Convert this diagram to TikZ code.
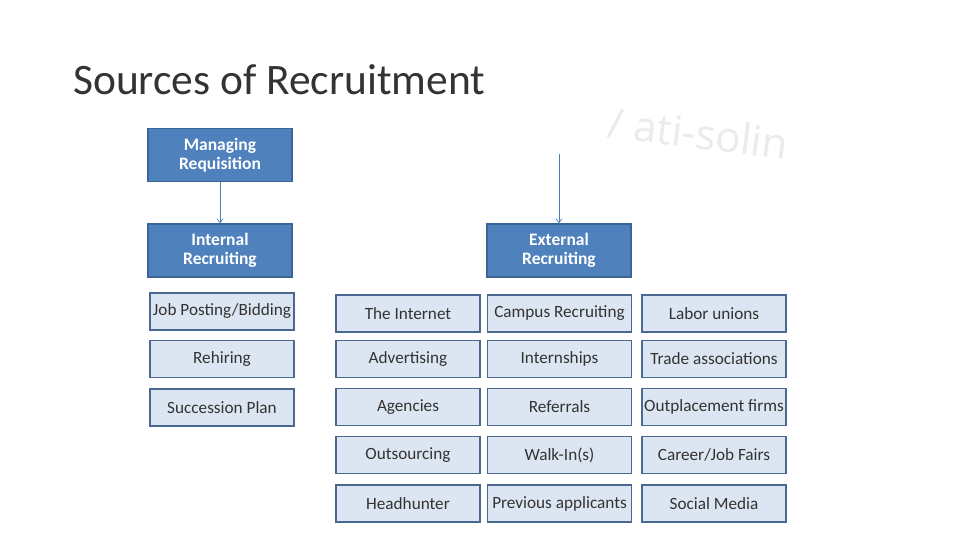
\documentclass[tikz,border=0pt]{standalone}
\usepackage{fontspec}
\setmainfont{Carlito}
\newfontfamily\wmfont{Open Sans}
\usetikzlibrary{arrows.meta}
\definecolor{hdfill}{HTML}{4F81BD}
\definecolor{hdline}{HTML}{3B6595}
\definecolor{itfill}{HTML}{DCE6F2}
\definecolor{itline}{HTML}{4A6890}
\definecolor{ittext}{HTML}{333333}
\definecolor{wmark}{HTML}{EBEBEB}
\definecolor{arrowc}{HTML}{4A7EBB}
\begin{document}
\begin{tikzpicture}[x=1pt,y=-1pt,
  hdbox/.style={draw=hdline,fill=hdfill,line width=1.4pt,minimum width=144pt,minimum height=53pt,inner sep=0pt,align=center,text=white,font=\bfseries\fontsize{17.5}{18.5}\selectfont},
  itbox/.style={draw=itline,fill=itfill,line width=1.6pt,minimum width=144pt,minimum height=37pt,inner sep=0pt,align=center,text=ittext,font=\fontsize{17.2}{19}\selectfont},
  conn/.style={draw=arrowc,line width=0.7pt,-{Straight Barb[length=4pt,width=6pt]}}]
\useasboundingbox (0,0) rectangle (960,540);
\fill[white] (0,0) rectangle (960,540);
% title
\node[anchor=base west,inner sep=0pt,font=\fontsize{43.5}{48}\selectfont,text=black!80] (title) at (73,95) {Sources of Recruitment};
% watermark fragment
\node[rotate=-7,inner sep=0pt,font=\wmfont\fontsize{42}{44}\selectfont,text=wmark] (wm) at (698,133) {/ ati-solin};
% header boxes
\node[hdbox] (mr) at (220,155) {Managing\\Requisition};
\node[hdbox] (ir) at (220,250.5) {Internal\\Recruiting};
\node[hdbox] (er) at (559,250.5) {External\\Recruiting};
\coordinate (etop) at (559,154);
\draw[conn] (mr) -- (ir);
\draw[conn] (etop) -- (er);
% internal list
\node[itbox] (i1) at (222,311.5) {Job Posting/Bidding};
\node[itbox] (i2) at (222,359) {Rehiring};
\node[itbox] (i3) at (222,407.5) {Succession Plan};
% external grid
\node[itbox] (a1) at (408,313.5) {The Internet};
\node[itbox] (a2) at (408,359) {Advertising};
\node[itbox] (a3) at (408,407) {Agencies};
\node[itbox] (a4) at (408,455) {Outsourcing};
\node[itbox] (a5) at (408,503.5) {Headhunter};
\node[itbox] (b1) at (559.5,313.5) {Campus Recruiting};
\node[itbox] (b2) at (559.5,359) {Internships};
\node[itbox] (b3) at (559.5,407) {Referrals};
\node[itbox] (b4) at (559.5,455) {Walk-In(s)};
\node[itbox] (b5) at (559.5,503.5) {Previous applicants};
\node[itbox] (c1) at (714,313.5) {Labor unions};
\node[itbox] (c2) at (714,359) {Trade associations};
\node[itbox] (c3) at (714,407) {Outplacement firms};
\node[itbox] (c4) at (714,455) {Career/Job Fairs};
\node[itbox] (c5) at (714,503.5) {Social Media};
\end{tikzpicture}
\end{document}
